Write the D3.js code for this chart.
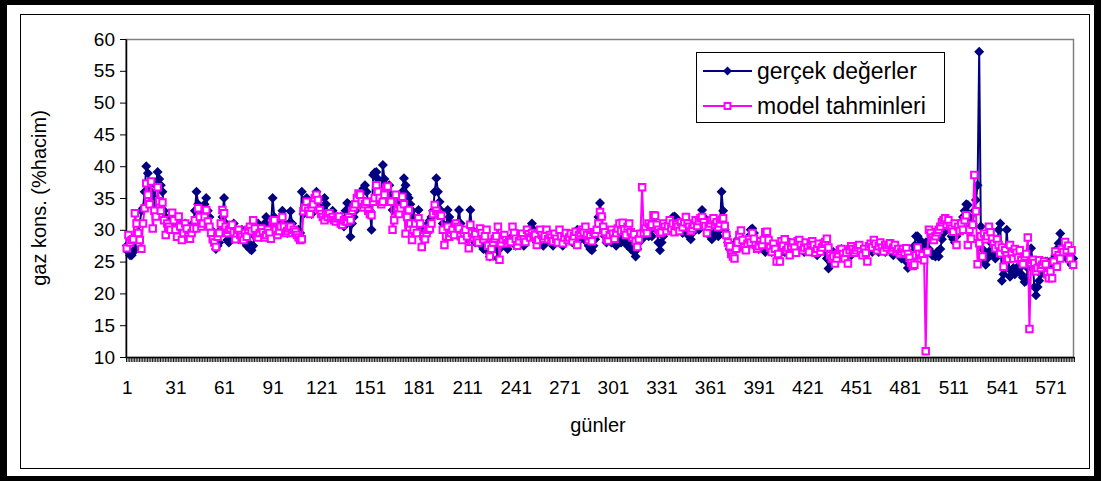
<!DOCTYPE html>
<html>
<head>
<meta charset="utf-8">
<script src="https://cdn.jsdelivr.net/npm/d3@7"></script>
<style>
  body { margin: 0; background: #fff; }
  svg { display: block; }
  text { font-family: "Liberation Sans", Arial, Helvetica, sans-serif; fill: #000; }
</style>
</head>
<body>
<svg id="chart" width="1106" height="481"></svg>
<script>
// Ölçülen gaz konsantrasyonu (% hacim), gün 1..585
const gercekDegerler = [
  27.5, 26.5, 26, 26, 26.5, 27, 28.5, 29.5, 31, 33,
  33.4, 36, 40, 38.9, 37, 36, 34, 35, 37, 39.1,
  38, 37, 36, 33, 32, 31, 30, 31.5, 32, 30.5,
  30, 29.5, 31, 30, 29.5, 30, 31, 30.5, 29.5, 29,
  30, 31, 33, 36, 34, 33, 31, 32, 34, 35,
  33, 32, 30, 29, 28, 27, 27.5, 28, 30, 32,
  35, 31, 28.4, 28, 29, 30, 31, 30, 29, 28.5,
  29, 30, 29.5, 28, 27.5, 28, 27, 26.8, 27.5, 29,
  30, 31, 30, 29, 30.5, 31, 32, 30, 29.5, 31,
  35, 32, 31, 30, 30.5, 31, 33, 31, 30, 29.5,
  31, 32.9, 31, 30, 29.5, 29, 30, 29.5, 36, 32.5,
  33.5, 35, 34, 33, 32.5, 34, 35, 36, 35, 34,
  33, 33.5, 35, 34, 32.5, 32, 32.5, 33, 32, 31.5,
  32, 31.5, 32, 31, 30.5, 33, 34.2, 34, 28.9, 31,
  32, 33, 33.9, 34.5, 35, 36, 36.5, 37, 36, 34,
  33, 30, 38.6, 39, 39.1, 38, 36, 35, 40.2, 38,
  37, 36, 37, 35, 33.1, 34, 35, 34, 33, 34,
  36, 38.1, 37, 35.5, 35, 34, 33, 32, 31.5, 31,
  33.1, 31, 30, 29, 29.5, 30, 31, 31.5, 32, 33,
  36, 38.1, 36, 34.4, 33, 31, 30, 29.5, 33.1, 32,
  31, 30, 29.5, 30, 31, 33.1, 31, 30, 29, 28.5,
  29, 30, 33.1, 30, 29, 28, 28.5, 29, 28, 27.5,
  27, 28, 27.5, 26.5, 25.8, 27, 28, 28.5, 27, 25.5,
  27, 28, 29, 28, 27.5, 27, 28, 28.5, 29, 28,
  27.5, 28, 29, 28.5, 28, 27.5, 28.5, 29, 30, 29.5,
  31, 30, 29, 28, 28.5, 29, 28, 27.5, 28, 28.5,
  29, 28.5, 28, 27.5, 28, 28.5, 29, 28, 28.5, 27.5,
  28, 28.5, 29, 28.5, 29, 28, 28.5, 29, 30, 29,
  28.5, 29, 29.5, 29, 28, 27.5, 27, 26.8, 27.5, 28.5,
  30, 32, 34.2, 32, 30, 29, 28, 28.5, 29, 28,
  29, 28, 27.5, 28.5, 29, 28, 28.5, 29, 28, 27.5,
  28, 27, 27.5, 26.5, 25.8, 27, 28, 29, 28.5, 29,
  30, 29.5, 29, 30, 29, 30.5, 31, 30, 28, 26.8,
  28, 29, 30, 31, 30.5, 31, 31.5, 32, 32.1, 31.8,
  31.5, 30.5, 30, 29.5, 30.5, 31, 30, 29, 28.5, 29.5,
  30, 30.5, 31, 30, 31.5, 33.1, 32, 31, 30, 29.5,
  29, 28.5, 29.5, 30.5, 30, 29, 30, 36, 33, 30,
  29, 28, 27, 26.5, 26, 27, 28, 28.5, 27.5, 28,
  28.5, 27.5, 27, 28, 29, 30, 30.2, 29.5, 28.5, 27.5,
  27, 27.5, 28, 27, 26.5, 27, 27.5, 27, 26.5, 27,
  27.5, 26.5, 26, 26.5, 27, 27.5, 26.5, 27, 27.5, 28,
  27.5, 27, 26.5, 27, 27.5, 28, 27.5, 27, 26.5, 27,
  27.5, 27, 27.5, 28, 27.5, 26.5, 26, 26.5, 27, 27.5,
  27, 26.5, 25.5, 23.9, 25, 26, 26.5, 26, 25.5, 26,
  26.5, 27, 26.5, 26, 26.5, 27, 26.5, 26, 26.5, 27,
  27.5, 27, 26.5, 27, 26.5, 26, 26.5, 27, 27.5, 27,
  26.5, 27, 27.5, 27, 26.5, 27, 27.5, 27, 26.5, 27,
  27.5, 27, 26.5, 26, 26.5, 27, 26.5, 26, 25.5, 26,
  26.5, 25, 24, 25, 25.5, 26.5, 27.5, 29, 29, 28.5,
  28, 27, 26.5, 28, 28.1, 27, 26.5, 26, 26, 25.8,
  26.5, 25.8, 27, 28.5, 29.5, 30, 30.5, 31, 30, 29,
  28.5, 28, 29, 30, 31, 30.5, 32, 33, 34, 33.9,
  32, 30.5, 31, 33, 34.7, 37, 58, 30.5, 27, 25,
  24.5, 25.5, 26.5, 28, 27, 26, 25.5, 27, 30, 31,
  22, 23, 24, 30, 25.5, 22.6, 23.5, 24, 23, 24,
  23.5, 24, 23, 22.5, 21.8, 22, 24, 25, 27.1, 25,
  21, 19.7, 21, 22, 23, 24, 24.5, 25, 25, 24,
  24.5, 25, 25.5, 26, 27, 27.9, 29.4, 28, 27, 26,
  25.5, 26, 25, 24.5, 25.5
];

// Modelin tahmin ettiği değerler, aynı günler için
const modelTahminleri = [
  27.1, 29.2, 28, 28.4, 28.5, 32.6, 31, 29.5, 28.4, 27,
  31, 33.4, 37.3, 35.5, 34, 37.6, 30.2, 33, 32.1, 36.7,
  34.5, 33, 34.3, 31.5, 29.2, 31, 30.5, 30, 32.7, 31.5,
  30, 28.9, 32.1, 30.5, 28.4, 29.5, 31, 30.2, 29, 28.6,
  29.5, 30.2, 31.5, 30.2, 33.4, 32, 30.5, 31, 32, 33.1,
  31.3, 30.5, 29.5, 28.5, 28, 27.3, 28.9, 29.5, 31, 33.1,
  32.6, 30.5, 29.5, 30, 30.2, 30.8, 29.6, 28.5, 29.4, 30,
  29.2, 28.9, 28.4, 29.5, 28.9, 30, 30.5, 29.8, 31.5, 30.2,
  29, 28.8, 29.5, 30.2, 29.6, 28.8, 29.2, 30, 29.5, 28.6,
  31.3, 31.5, 30, 29.2, 29.8, 30.5, 32, 30.5, 29.5, 29.8,
  30.2, 30.5, 29.5, 30, 29.7, 29.2, 28.8, 28.4, 28.5, 32.9,
  33.5, 34.4, 33, 32.5, 33.5, 34, 35, 35.5, 34.7, 33.1,
  32.5, 32, 31.5, 32.3, 32, 32.6, 31.8, 32, 31.5, 31.3,
  31.8, 32.1, 31, 30.8, 31.5, 31.3, 31.3, 32, 31.5, 33,
  33.5, 34, 35, 35.7, 35.5, 34.5, 33.5, 34, 34.4, 33,
  32.5, 32.3, 34.4, 35, 37, 36, 35, 34, 34.4, 35.5,
  36.6, 36.8, 34.5, 34.4, 30, 31.5, 35.5, 33, 32.5, 33.4,
  35.2, 34, 29.4, 32, 33.1, 31, 28.4, 30, 31, 29.5,
  31.8, 31, 27.3, 29, 28.5, 29.5, 30, 30.2, 31, 32.5,
  33.9, 33, 32.5, 32.3, 32.2, 30, 27.6, 29, 30.5, 28.9,
  29.5, 30, 29.2, 31, 30.5, 30.2, 29, 28.4, 29.5, 30,
  29, 27.1, 30.8, 29.5, 28.8, 29.3, 28.4, 28, 30.2, 29.5,
  28.5, 29, 30, 27.5, 25.8, 27, 28, 28.6, 29, 30.5,
  25.3, 27.9, 28.5, 29.2, 28.4, 27.9, 28.3, 28.1, 30.5, 29.5,
  28.6, 27.5, 28.2, 29, 29.4, 28.5, 28.1, 30, 29.3, 28.8,
  29.5, 29, 29.2, 27.6, 28.4, 30, 29.2, 28.6, 29, 30,
  28.5, 29.2, 28.8, 28.2, 29.4, 28.6, 28, 30, 29, 27.9,
  28.8, 29.5, 28.4, 28.8, 29.4, 28.2, 29, 29.7, 27.6, 29.2,
  29.5, 30, 29.6, 30.5, 29.2, 28.4, 29, 28.2, 29.6, 29.4,
  30, 31, 32.8, 32.1, 30.5, 29.6, 28.6, 28.3, 29.2, 30,
  29.4, 28.6, 29.5, 30.2, 31, 29.8, 31.1, 30, 29.2, 30.5,
  31, 29.6, 28.8, 29.3, 28.2, 27.3, 28.5, 29.4, 36.7, 29.5,
  30.2, 29.5, 31, 30.5, 30.8, 32.3, 32.2, 30.8, 30, 29.5,
  29.6, 31, 30.5, 29.8, 30.6, 31.5, 30.2, 31, 29.6, 30.8,
  30.5, 29.8, 31.2, 30.4, 31.2, 32, 31, 30.5, 29.8, 30.2,
  30.8, 31.5, 30.6, 31.4, 31.8, 32, 31.2, 30.6, 29.5, 30.5,
  31, 31.5, 31.8, 30.8, 31.2, 30.4, 31, 31.6, 31.8, 30.6,
  29.2, 28, 27.4, 26.2, 25.8, 25.5, 27, 28, 29.2, 29.9,
  28.4, 27.2, 26.8, 27.8, 28.5, 28, 29.5, 28.6, 27.6, 27,
  27.4, 28.2, 27.6, 28.4, 29.6, 29.7, 28.4, 27.2, 26.5, 27.8,
  27, 25, 26.2, 25, 28.2, 27.5, 28.5, 26.8, 27.2, 26,
  27.4, 28, 27.2, 26.4, 28.2, 28.4, 27.6, 26.8, 27.2, 28,
  27.2, 26.5, 27.8, 28.2, 27.6, 26.4, 27, 27.8, 26.6, 27.2,
  27.8, 28.1, 28.6, 27.2, 26, 25.5, 25.8, 24.7, 25.5, 26.2,
  26.8, 27, 26.2, 25.5, 26.4, 24.7, 26.8, 27.4, 27, 26.4,
  26.8, 27.2, 27.6, 26.6, 26, 27, 26.4, 25, 27.4, 27.8,
  27.2, 28.4, 27.8, 26.8, 27.4, 28, 27.2, 26.6, 27.6, 27.2,
  27.6, 27.9, 26.8, 27.2, 27.6, 26.6, 27, 26.2, 26.6, 27,
  26.4, 27.1, 26.2, 25.6, 24.8, 24.3, 24.5, 26, 27.2, 26.2,
  25.5, 26, 25.2, 10.9, 26.5, 30, 29.5, 28.8, 28.4, 29,
  29.6, 30, 30.5, 31.2, 31.5, 31.8, 30.8, 31.5, 30.6, 30.2,
  29.7, 31, 27.6, 30.5, 29.8, 31, 30, 31.5, 32.3, 27.6,
  30, 28.6, 30.8, 38.6, 32.9, 24.6, 27.9, 29, 25.8, 29.4,
  28.5, 29, 30.5, 29.6, 28.6, 27.8, 27.1, 28.5, 27.6, 26.3,
  27.2, 24.2, 26.8, 26, 25.4, 27.6, 26.2, 25.5, 27, 26.4,
  25.6, 26.8, 25.2, 24.6, 25.8, 26.2, 28.8, 14.4, 24.8, 25.3,
  24.8, 23.5, 24, 25.2, 24, 24.5, 25, 24.6, 23, 22.4,
  23.5, 22.4, 25, 26.6, 24.2, 26, 25.5, 27, 26.5, 28.1,
  26.8, 27.5, 25.4, 26.8, 24.5
];

const days = d3.range(1, gercekDegerler.length + 1);
const yTicks = [10, 15, 20, 25, 30, 35, 40, 45, 50, 55, 60];
const xTickLabels = [1, 31, 61, 91, 121, 151, 181, 211, 241, 271, 301, 331, 361, 391, 421, 451, 481, 511, 541, 571];
const seriesNames = ["gerçek değerler", "model tahminleri"];
const seriesColors = ["#000080", "#FF00FF"];
const yTitle = "gaz kons. (%hacim)";
const xTitle = "günler";

const plot = { left: 126, top: 39, right: 1074, bottom: 357 };

const svg = d3.select("#chart");

// çerçeve: kalın siyah dış kenar ve ince iç kenar
svg.append("rect").attr("x", 0).attr("y", 0).attr("width", 1101).attr("height", 481).attr("fill", "#000");
svg.append("rect").attr("x", 7).attr("y", 5).attr("width", 1087).attr("height", 471).attr("fill", "#fff");
svg.append("rect").attr("x", 20.5).attr("y", 14.5).attr("width", 1069).attr("height", 454)
  .attr("fill", "none").attr("stroke", "#000").attr("stroke-width", 1);

const x = d3.scaleLinear()
  .domain([0.5, days.length + 0.5])
  .range([plot.left, plot.right]);
const y = d3.scaleLinear()
  .domain([10, 60])
  .range([plot.bottom, plot.top]);

// çizim alanı kenarı
svg.append("rect")
  .attr("x", plot.left).attr("y", plot.top + 0.5)
  .attr("width", plot.right - plot.left - 0.5).attr("height", plot.bottom - plot.top)
  .attr("fill", "#fff").attr("stroke", "#808080").attr("stroke-width", 1.5);

// y ekseni
const yAxis = svg.append("g")
  .attr("transform", `translate(${plot.left},0)`)
  .call(d3.axisLeft(y).tickValues(yTicks).tickSize(6).tickPadding(5).tickSizeOuter(0));
yAxis.select(".domain").attr("stroke", "#000").attr("stroke-width", 1.5);
yAxis.selectAll(".tick line").attr("stroke", "#000");
yAxis.selectAll(".tick text").attr("font-size", 19).attr("font-family", null);

// x ekseni: her gün için bir çentik, etiketler 30 günde bir
const boundaries = d3.range(0.5, days.length + 1, 1);
const xTicks = svg.append("g")
  .attr("transform", `translate(0,${plot.bottom})`)
  .call(d3.axisBottom(x).tickValues(boundaries).tickSize(5).tickFormat("").tickSizeOuter(0));
xTicks.select(".domain").attr("stroke", "#000").attr("stroke-width", 1.5);
xTicks.selectAll(".tick line").attr("stroke", "#000").attr("stroke-width", 0.9);

const xLabels = svg.append("g")
  .attr("transform", `translate(0,${plot.bottom})`)
  .call(d3.axisBottom(x).tickValues(xTickLabels).tickSize(0).tickPadding(24).tickFormat(d3.format("d")));
xLabels.select(".domain").remove();
xLabels.selectAll(".tick text").attr("font-size", 19).attr("font-family", null);

// eksen başlıkları
svg.append("text")
  .attr("transform", "translate(46,198) rotate(-90)")
  .attr("text-anchor", "middle").attr("font-size", 20)
  .text(yTitle);
svg.append("text")
  .attr("x", 598).attr("y", 432)
  .attr("text-anchor", "middle").attr("font-size", 20)
  .text(xTitle);

// seriler
const line = d3.line()
  .x((d, i) => x(days[i]))
  .y(d => y(d));

const diamond = d3.symbol(d3.symbolSquare, 50)();
const square = d3.symbol(d3.symbolSquare, 42)();

// gerçek değerler
svg.append("path").datum(gercekDegerler)
  .attr("fill", "none").attr("stroke", seriesColors[0]).attr("stroke-width", 2)
  .attr("stroke-linejoin", "round").attr("d", line);
svg.append("g").selectAll("path").data(gercekDegerler).join("path")
  .attr("d", diamond)
  .attr("transform", (d, i) => `translate(${x(days[i])},${y(d)}) rotate(45)`)
  .attr("fill", seriesColors[0]);

// model tahminleri
svg.append("path").datum(modelTahminleri)
  .attr("fill", "none").attr("stroke", seriesColors[1]).attr("stroke-width", 2)
  .attr("stroke-linejoin", "round").attr("d", line);
svg.append("g").selectAll("path").data(modelTahminleri).join("path")
  .attr("d", square)
  .attr("transform", (d, i) => `translate(${x(days[i])},${y(d)})`)
  .attr("fill", "#fff").attr("stroke", seriesColors[1]).attr("stroke-width", 2);

// lejant
const legend = svg.append("g");
legend.append("rect")
  .attr("x", 696.5).attr("y", 52.5).attr("width", 248).attr("height", 70)
  .attr("fill", "#fff").attr("stroke", "#000").attr("stroke-width", 1);
const rows = [71, 106];
seriesNames.forEach((name, k) => {
  const ly = rows[k];
  legend.append("line")
    .attr("x1", 703).attr("x2", 752).attr("y1", ly).attr("y2", ly)
    .attr("stroke", seriesColors[k]).attr("stroke-width", 2);
  if (k === 0) {
    legend.append("path").attr("d", d3.symbol(d3.symbolSquare, 40)())
      .attr("transform", `translate(727.5,${ly}) rotate(45)`)
      .attr("fill", seriesColors[0]);
  } else {
    legend.append("path").attr("d", d3.symbol(d3.symbolSquare, 34)())
      .attr("transform", `translate(727.5,${ly})`)
      .attr("fill", "#fff").attr("stroke", seriesColors[1]).attr("stroke-width", 2);
  }
  legend.append("text")
    .attr("x", 757).attr("y", ly + 8)
    .attr("font-size", 23)
    .text(name);
});
</script>
</body>
</html>
